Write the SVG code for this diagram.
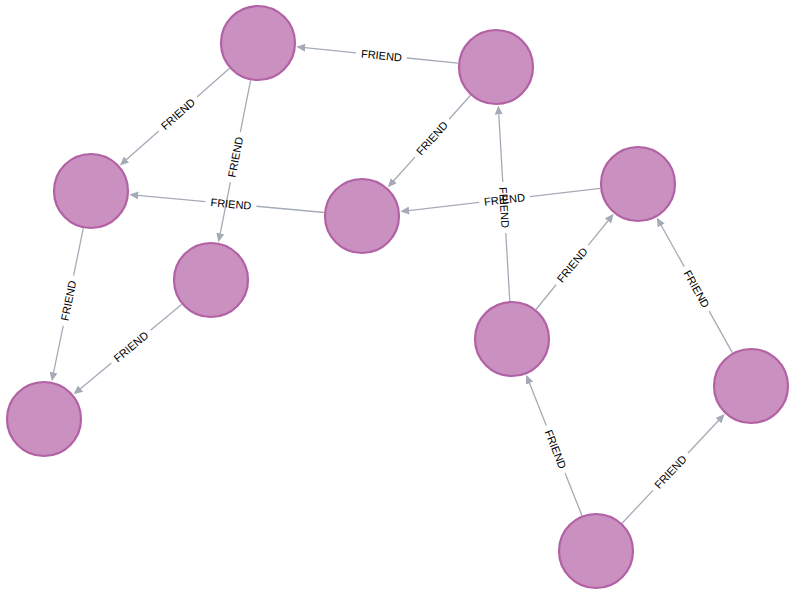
<svg xmlns="http://www.w3.org/2000/svg" width="795" height="595" viewBox="0 0 795 595">
<style>
.edge{fill:none;stroke:#A5ABB6;stroke-width:1.3;marker-end:url(#arrow)}
.lbl{font-family:"Liberation Sans",Arial,Helvetica,sans-serif;font-size:11px;fill:#000;text-anchor:middle;dominant-baseline:central}
.node circle{fill:#C990C0;stroke:#B261A5;stroke-width:2.2}
</style>
<defs>
<marker id="arrow" markerUnits="userSpaceOnUse" markerWidth="9" markerHeight="8" viewBox="0 0 9 8" refX="0.5" refY="4" orient="auto">
<path d="M0,0 L9,4 L0,8 z" fill="#A5ABB6"/>
</marker>
</defs>
<rect width="795" height="595" fill="#fff"/>
<g id="connectors">
<path class="edge" d="M458.19 63.19 L406.85 58.01 M356.11 52.89 L304.77 47.71"/>
<text class="lbl" transform="translate(381.48 55.45) rotate(5.76)">FRIEND</text>
<path class="edge" d="M229.56 68.21 L196.95 97.11 M158.79 130.93 L126.18 159.82"/>
<text class="lbl" transform="translate(177.87 114.02) rotate(-41.55)">FRIEND</text>
<path class="edge" d="M250.61 80.27 L240.34 132.08 M230.42 182.10 L220.14 233.90"/>
<text class="lbl" transform="translate(235.38 157.09) rotate(-78.78)">FRIEND</text>
<path class="edge" d="M470.59 95.26 L449.06 119.20 M414.96 157.12 L393.43 181.05"/>
<text class="lbl" transform="translate(432.01 138.16) rotate(-48.04)">FRIEND</text>
<path class="edge" d="M324.16 212.51 L256.37 206.26 M205.59 201.58 L137.80 195.32"/>
<text class="lbl" transform="translate(230.98 203.92) rotate(5.27)">FRIEND</text>
<path class="edge" d="M600.25 188.38 L529.80 196.54 M479.14 202.42 L408.69 210.58"/>
<text class="lbl" transform="translate(504.47 199.48) rotate(-6.62)">FRIEND</text>
<path class="edge" d="M509.77 301.07 L505.77 232.95 M502.77 182.03 L498.76 113.91"/>
<text class="lbl" transform="translate(504.27 207.49) rotate(86.63)">FRIEND</text>
<path class="edge" d="M535.97 309.51 L556.07 284.78 M588.25 245.20 L608.35 220.47"/>
<text class="lbl" transform="translate(572.16 264.99) rotate(-50.89)">FRIEND</text>
<path class="edge" d="M83.33 228.22 L73.56 275.63 M63.26 325.57 L53.49 372.97"/>
<text class="lbl" transform="translate(68.41 300.60) rotate(-78.35)">FRIEND</text>
<path class="edge" d="M181.79 304.31 L150.56 330.31 M111.36 362.93 L80.13 388.93"/>
<text class="lbl" transform="translate(130.96 346.62) rotate(-39.78)">FRIEND</text>
<path class="edge" d="M582.00 515.67 L565.05 472.90 M546.27 425.48 L529.32 382.70"/>
<text class="lbl" transform="translate(555.66 449.19) rotate(68.38)">FRIEND</text>
<path class="edge" d="M622.02 523.30 L652.96 490.37 M687.88 453.19 L718.82 420.26"/>
<text class="lbl" transform="translate(670.42 471.78) rotate(-46.79)">FRIEND</text>
<path class="edge" d="M732.45 352.84 L709.15 311.18 M684.25 266.68 L660.94 225.01"/>
<text class="lbl" transform="translate(696.70 288.93) rotate(60.78)">FRIEND</text>
</g>
<g id="node-a" class="node"><circle cx="258" cy="43" r="37"/></g>
<g id="node-b" class="node"><circle cx="496" cy="67" r="37"/></g>
<g id="node-c" class="node"><circle cx="91" cy="191" r="37"/></g>
<g id="node-d" class="node"><circle cx="362" cy="216" r="37"/></g>
<g id="node-e" class="node"><circle cx="638" cy="184" r="37"/></g>
<g id="node-f" class="node"><circle cx="211" cy="280" r="37"/></g>
<g id="node-g" class="node"><circle cx="512" cy="339" r="37"/></g>
<g id="node-h" class="node"><circle cx="44" cy="419" r="37"/></g>
<g id="node-i" class="node"><circle cx="751" cy="386" r="37"/></g>
<g id="node-j" class="node"><circle cx="596" cy="551" r="37"/></g>
</svg>
